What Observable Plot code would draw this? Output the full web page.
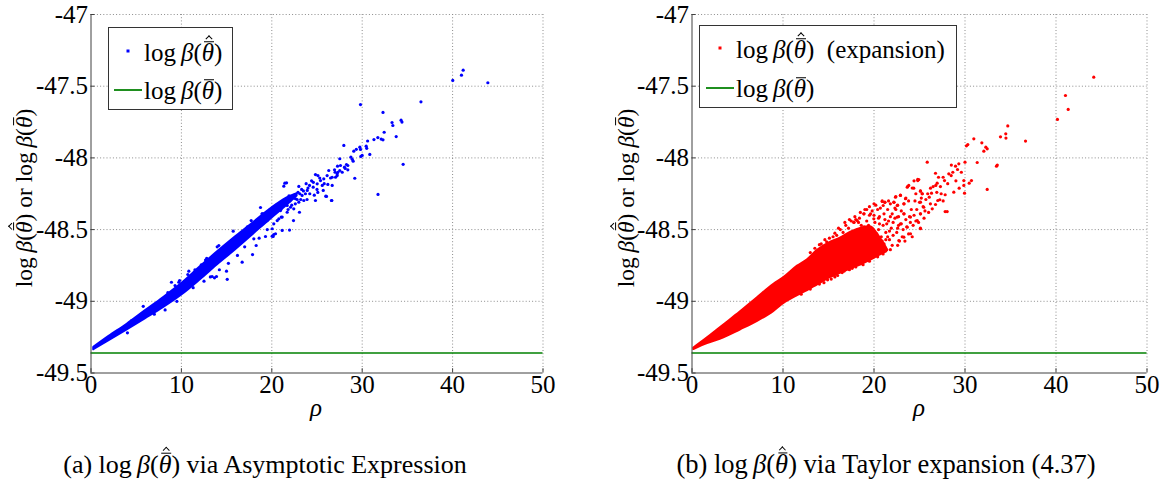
<!DOCTYPE html>
<html><head><meta charset="utf-8">
<script src="https://cdn.jsdelivr.net/npm/d3@7"></script>
<script src="https://cdn.jsdelivr.net/npm/@observablehq/plot@0.6"></script>
<style>
body{margin:0;background:#fff;}
#fig{position:relative;width:1169px;height:487px;font-family:"Liberation Serif",serif;color:#000;overflow:hidden;}
#fig svg text{font-family:"Liberation Serif",serif !important;}
.panel{position:absolute;top:0;}
.ov{position:absolute;white-space:nowrap;line-height:1.1;}
.c{transform:translate(-50%,-50%);}
.vc{transform:translateY(-50%);}
.rot{transform:translate(-50%,-50%) rotate(-90deg);}
.th{position:relative;display:inline-block;line-height:1;}
.th .bar{position:absolute;left:22%;right:4%;top:0.02em;border-top:0.055em solid currentColor;}
.th .hat{position:absolute;left:58%;top:-0.16em;width:0.16em;height:0.16em;border-left:0.05em solid currentColor;border-top:0.05em solid currentColor;transform:translateX(-50%) rotate(45deg);}
.legend{position:absolute;box-sizing:border-box;border:1px solid #333;background:#fff;}
.ldot{position:absolute;width:3px;height:3px;transform:translate(-50%,-50%);}
.lline{position:absolute;height:2px;background:#1f8f1f;}
</style></head><body>
<div id="fig"></div>
<script>
// ---------- data ----------
const xTicks = [0, 10, 20, 30, 40, 50];
const yTicks = [-47, -47.5, -48, -48.5, -49, -49.5];
const yTickLabels = ["-47", "-47.5", "-48", "-48.5", "-49", "-49.5"];
const baselineValue = -49.36; // log beta(theta bar)

// panel (a): dense core of the scatter (envelope)
const asymBandRho = [0.3, 2, 4, 6, 8, 10, 12, 14, 16, 18, 20, 21.5, 22.8];
const asymBandHi  = [-49.322, -49.245, -49.16, -49.067, -48.975, -48.878, -48.765, -48.655, -48.55, -48.45, -48.35, -48.285, -48.25];
const asymBandLo  = [-49.338, -49.275, -49.20, -49.123, -49.045, -48.958, -48.855, -48.745, -48.64, -48.53, -48.42, -48.34, -48.265];
// panel (a): individual points outside / along the core
const asymPoints = [
 [41.17,-47.388],[40.98,-47.423],[40.02,-47.46],[43.9,-47.476],[36.5,-47.609],[29.81,-47.628],[32.3,-47.683],
 [33.3,-47.753],[33.39,-47.774],[34.3,-47.737],[34.4,-47.75],[32.43,-47.821],[33.76,-47.851],[31.73,-47.858],
 [32.1,-47.869],[32.3,-47.874],[31.3,-47.872],[30.6,-47.882],[30.44,-47.918],[30.5,-47.933],[29.74,-47.925],
 [29.81,-47.941],[30.84,-47.976],[30.0,-47.983],[29.85,-47.99],[29.07,-47.953],[29.35,-47.94],[28.75,-47.995],
 [28.9,-48.01],[29.0,-48.023],[27.97,-47.913],[27.52,-48.006],[28.41,-48.053],[28.12,-48.074],[34.53,-48.045],
 [31.75,-48.255],[29.18,-48.142],[27.27,-48.058],[27.52,-48.088],[27.23,-48.111],[27.05,-48.135],[26.6,-48.297],
 [25.97,-48.267],[21.44,-48.176],[21.33,-48.197],[21.96,-48.503],[18.75,-48.346],[18.94,-48.39],[15.73,-48.511],
 [15.07,-48.847],[17.87,-48.674],[13.96,-48.62],[14.14,-48.611],[5.78,-49.035],[4.03,-49.22],[12.67,-48.712],
 [9.8,-48.855],
 [27.6,-48.053],[28.04,-48.065],[28.26,-48.046],[28.41,-48.083],[27.79,-48.1],[27.3,-48.1],[26.94,-48.083],
 [27.23,-48.123],[26.68,-48.135],[26.3,-48.088],[26.12,-48.123],[25.75,-48.146],[25.39,-48.158],[25.1,-48.123],
 [24.83,-48.116],[25.02,-48.181],[25.58,-48.192],[24.58,-48.204],[26.68,-48.192],[26.2,-48.185],[26.05,-48.269],
 [26.64,-48.297],[25.69,-48.227],[25.09,-48.241],[24.83,-48.297],[24.17,-48.192],[23.92,-48.227],[23.72,-48.25],
 [23.35,-48.262],[23.1,-48.25],[23.54,-48.297],[22.99,-48.309],[22.62,-48.285],[22.43,-48.355],[22.07,-48.344],
 [21.7,-48.332],[22.99,-48.199],[21.63,-48.174],[23.06,-48.379],[22.4,-48.437],[20.96,-48.367],[21.15,-48.413],
 [20.6,-48.437],[20.22,-48.46],[20.04,-48.494],[19.78,-48.39],[19.49,-48.437],[19.12,-48.39],[18.93,-48.39],
 [18.2,-48.443],[17.72,-48.437],[20.22,-48.534],[20.04,-48.546],
 [9.71,-48.867],[10.82,-48.79],[16.72,-48.727],[13.88,-48.827],[13.66,-48.836],[13.4,-48.827],[19.3,-48.548],
 [20.15,-48.548],[20.41,-48.529],[21.15,-48.506],[20.78,-48.425],[21.04,-48.413],[21.7,-48.379],[18.01,-48.564],
 [18.27,-48.611],[16.17,-48.599],[10.71,-48.813],[8.9,-48.867],[14.99,-48.79],
 [3.0,-49.205],[4.5,-49.135],[6.5,-49.05],[7.5,-49.012],[8.5,-48.94],[9.3,-48.89],[11.5,-48.78],[12.2,-48.745],
 [12.8,-48.70],[14.5,-48.64],[15.5,-48.585],[16.5,-48.53],[17.3,-48.48],[11.3,-48.905],[12.5,-48.86],[13.2,-48.83],
 [14.2,-48.78],[15.2,-48.735],[16.2,-48.68],[17.0,-48.62],[18.6,-48.56],[19.5,-48.5],[7.0,-49.09],[8.2,-49.06],
 [9.5,-49.0],[19.0,-48.41],[19.8,-48.36],[20.5,-48.33],[21.3,-48.3],[21.9,-48.265],[22.5,-48.26],[23.3,-48.22],
 [22.2,-48.33],[22.8,-48.29],[23.8,-48.18],[24.4,-48.16],
 [21.0,-48.36],[21.6,-48.31],[22.0,-48.30],[22.3,-48.28],[22.9,-48.24],[23.5,-48.23],[24.0,-48.21],[24.6,-48.17],
 [25.3,-48.14],[21.8,-48.36],[22.6,-48.32],[23.2,-48.29],[24.2,-48.25],[25.0,-48.22],[25.8,-48.18],[26.5,-48.14],
 [27.0,-48.10],[24.7,-48.26],[23.9,-48.29]
];

// panel (b): dense core of the scatter
const taylorBandRho = [0.2, 1.7, 3.5, 5.3, 7.2, 9.0, 10.1, 11.6, 12.7, 13.8, 15.2, 16.3, 17.4, 18.6, 19.6, 20.6, 21.4];
const taylorBandLo  = [-49.336, -49.295, -49.255, -49.20, -49.14, -49.07, -49.015, -48.96, -48.925, -48.885, -48.835, -48.805, -48.775, -48.745, -48.715, -48.68, -48.655];
const taylorBandHi  = [-49.326, -49.255, -49.165, -49.075, -48.975, -48.882, -48.835, -48.755, -48.71, -48.645, -48.59, -48.56, -48.52, -48.49, -48.48, -48.55, -48.63];
// panel (b): individual points
const taylorPoints = [
 [44.15,-47.437],[41.04,-47.565],[41.34,-47.662],[40.16,-47.732],[36.65,-47.883],[34.7,-47.777],[34.48,-47.832],
 [34.5,-47.862],[33.9,-47.853],[33.46,-48.058],[33.55,-48.05],[32.44,-48.22],[32.29,-47.925],[32.44,-47.937],
 [32.07,-47.953],[31.85,-47.895],[30.97,-47.867],[30.31,-47.907],[30.16,-47.916],[31.34,-48.032],[25.85,-48.03],
 [29.32,-48.041],[28.96,-48.058],[29.18,-48.081],[28.66,-48.1],[30.46,-48.176],[30.71,-48.158],[29.87,-48.158],
 [29.87,-48.192],[29.95,-48.246],[29.36,-48.211],[28.77,-48.239],[28.22,-48.111],[28.48,-48.123],[27.6,-48.135],
 [27.75,-48.158],[27.09,-48.135],[26.76,-48.107],[26.94,-48.176],[26.79,-48.192],[27.38,-48.25],[27.82,-48.257],
 [27.23,-48.292],[27.82,-48.374],[28.04,-48.374],[26.21,-48.211],[26.32,-48.246],[26.07,-48.274],[27.01,-48.297],
 [26.76,-48.325],[26.4,-48.355],[24.92,-48.151],[24.81,-48.158],[25.11,-48.232],[25.3,-48.25],[23.82,-48.192],
 [23.65,-48.204],[24.37,-48.211],[25.11,-48.309],[25.47,-48.344],[25.11,-48.39],[24.75,-48.437],[25.11,-48.494],
 [22.91,-48.262],[23.46,-48.285],[23.28,-48.32],[22.36,-48.274],[22.18,-48.309],[22.55,-48.332],[20.9,-48.304],
 [21.19,-48.309],[21.01,-48.332],[22.0,-48.39],[22.55,-48.413],[23.28,-48.39],[24.01,-48.413],[22.91,-48.46],
 [23.65,-48.483],[22.73,-48.576],[23.28,-48.553],[24.01,-48.529],[19.62,-48.39],[19.98,-48.425],[18.88,-48.39],
 [18.15,-48.437],[17.78,-48.448],
 [14.2,-48.60],[14.8,-48.585],[15.5,-48.55],[15.9,-48.54],[14.5,-48.87],[15.3,-48.845],[16.0,-48.82],
 [16.3,-48.50],[16.6,-48.52],[16.9,-48.47],[17.2,-48.49],[17.5,-48.44],[17.8,-48.45],[16.5,-48.60],[16.8,-48.66],
 [17.1,-48.58],[17.4,-48.63],[17.7,-48.55],[17.9,-48.70],[16.4,-48.72],[16.7,-48.79],[17.0,-48.75],[17.3,-48.70],
 [17.6,-48.77],[18.0,-48.62],[18.2,-48.50],[18.1,-48.74],
 [18.4,-48.42],[18.6,-48.47],[18.9,-48.39],[19.2,-48.44],[19.5,-48.40],[19.8,-48.37],[18.5,-48.56],[18.8,-48.61],
 [19.1,-48.52],[19.4,-48.58],[19.7,-48.49],[19.9,-48.55],[18.3,-48.68],[18.7,-48.72],[19.0,-48.66],[19.3,-48.70],
 [19.6,-48.64],[19.95,-48.69],[20.1,-48.45],[20.2,-48.60],
 [20.4,-48.36],[20.6,-48.41],[20.9,-48.30],[21.2,-48.31],[21.5,-48.36],[21.8,-48.32],[20.5,-48.50],[20.8,-48.55],
 [21.0,-48.47],[21.3,-48.52],[21.6,-48.44],[21.9,-48.49],[20.3,-48.65],[20.7,-48.62],[21.1,-48.60],[21.4,-48.64],
 [21.7,-48.57],[22.0,-48.61],
 [22.2,-48.31],[22.4,-48.27],[22.6,-48.33],[22.9,-48.26],[23.3,-48.32],[23.5,-48.28],[23.7,-48.20],[22.3,-48.42],
 [22.7,-48.41],[23.0,-48.46],[23.3,-48.39],[23.6,-48.48],[23.9,-48.41],[22.5,-48.52],[22.8,-48.58],[23.1,-48.55],
 [23.8,-48.53],[24.0,-48.45],
 [24.2,-48.21],[24.4,-48.16],[24.8,-48.15],[25.1,-48.23],[25.3,-48.25],[24.5,-48.30],[24.7,-48.36],[25.0,-48.31],
 [25.4,-48.34],[25.7,-48.29],[24.3,-48.47],[24.6,-48.44],[25.1,-48.39],[25.1,-48.49],[25.5,-48.42],[26.0,-48.38],
 [17.5,-48.52],[17.9,-48.58],[18.3,-48.45],[18.5,-48.64],[18.9,-48.48],[19.1,-48.60],[19.4,-48.47],[19.7,-48.62],
 [20.0,-48.40],[20.3,-48.53],[20.6,-48.46],[20.9,-48.58],[21.1,-48.39],[21.4,-48.46],[21.7,-48.51],[22.1,-48.45],
 [22.4,-48.36],[22.6,-48.49],[16.9,-48.57],[17.2,-48.66],[18.6,-48.52],[19.2,-48.36],[20.2,-48.33],[20.7,-48.35],
 [21.6,-48.30],[18.0,-48.43],[16.6,-48.75],[17.7,-48.73],[19.8,-48.66],[21.3,-48.57],
 [13.0,-48.66],[13.5,-48.63],[14.0,-48.605],[14.6,-48.57],[15.1,-48.56],[15.7,-48.525],[16.1,-48.49],[16.8,-48.45],
 [17.3,-48.43],[17.9,-48.41],[18.5,-48.38],[19.0,-48.36],[19.5,-48.34],[20.0,-48.32],
 [12.0,-48.95],[13.0,-48.915],[14.0,-48.88],[14.9,-48.85],[15.7,-48.83],[16.5,-48.80],[17.3,-48.78],[18.0,-48.76],
 [18.8,-48.745],[19.5,-48.72],[20.4,-48.69],[21.0,-48.67],[21.8,-48.64],[22.6,-48.61],[23.4,-48.58],[24.2,-48.55],
 [20.1,-48.55],[20.5,-48.42],[20.8,-48.64],[21.2,-48.43],[21.5,-48.55],[21.8,-48.41],[22.1,-48.54],[22.3,-48.35],
 [22.7,-48.47],[23.0,-48.37],[23.2,-48.50],[23.5,-48.43],[23.8,-48.30],[24.1,-48.36],[24.4,-48.40],[24.6,-48.25],
 [24.9,-48.45],[25.2,-48.28],[25.6,-48.37],[25.9,-48.25],[26.2,-48.32],[26.5,-48.20],[26.9,-48.24],[27.3,-48.20],
 [27.6,-48.30],[28.1,-48.18],[28.5,-48.05],[29.0,-48.16],[29.6,-48.10],[30.0,-48.03]
];

// ---------- text ----------
const TH_BAR = `<span class="th"><i>θ</i><span class="bar"></span></span>`;
const TH_HATBAR = `<span class="th"><i>θ</i><span class="bar"></span><span class="hat"></span></span>`;
const logb = th => `log&#8201;<i>β</i>(${th})`;
const yLabelText = `${logb(TH_HATBAR)} or ${logb(TH_BAR)}`;
const captionA = `(a) ${logb(TH_HATBAR)} via Asymptotic Expression`;
const captionB = `(b) ${logb(TH_HATBAR)} via Taylor expansion (4.37)`;
const legendA = [`${logb(TH_HATBAR)}`, `${logb(TH_BAR)}`];
const legendB = [`${logb(TH_HATBAR)}&#8194;(expansion)`, `${logb(TH_BAR)}`];

// ---------- drawing ----------
const fig = document.getElementById("fig");
const H = 420, MT = 14, MB = 47.5;
const FONT = "Liberation Serif";

function panel({left, width, marginLeft, marginRight, rho, lo, hi, points, color}) {
  const band = rho.map((r, i) => ({r, lo: lo[i], hi: hi[i]}));
  const ySpan = yTicks.slice(0, -1);
  const svg = Plot.plot({
    width, height: H, marginLeft, marginRight, marginTop: MT, marginBottom: MB,
    x: {domain: [0, 50]},
    y: {domain: [-49.5, -47]},
    style: {fontFamily: FONT, fontSize: "25px", background: "white", color: "#000", overflow: "visible"},
    marks: [
      Plot.gridX(xTicks.slice(1), {stroke: "#8c8c8c", strokeOpacity: 1, strokeDasharray: "1,2.2"}),
      Plot.gridY(ySpan, {stroke: "#8c8c8c", strokeOpacity: 1, strokeDasharray: "1,2.2"}),
      Plot.areaY(band, {x: "r", y1: "lo", y2: "hi", fill: color, stroke: color, strokeWidth: 2, curve: "monotone-x"}),
      Plot.dot(points, {x: d => d[0], y: d => d[1], r: 1.6, fill: color, stroke: null}),
      Plot.ruleY([baselineValue], {stroke: "#008000", strokeWidth: 1.5}),
      Plot.ruleX([0], {stroke: "#404040", strokeWidth: 1}),
      Plot.ruleY([-49.5], {stroke: "#404040", strokeWidth: 1}),
      Plot.ruleX(xTicks, {y1: -49.5, y2: -49.47, stroke: "#404040"}),
      Plot.ruleY(yTicks, {x1: 0, x2: 0.45, stroke: "#404040"}),
      Plot.axisX(xTicks, {tickSize: 0, tickPadding: 2, label: null, fontSize: 25, fontFamily: FONT, tickFormat: d => String(d)}),
      Plot.axisY(yTicks, {tickSize: 0, tickPadding: 3, label: null, fontSize: 25, fontFamily: FONT, tickFormat: d => yTickLabels[yTicks.indexOf(d)]})
    ]
  });
  svg.classList.add("panel");
  svg.style.left = left + "px";
  fig.appendChild(svg);
}

panel({left: 0, width: 584, marginLeft: 90.5, marginRight: 41.5,
       rho: asymBandRho, lo: asymBandLo, hi: asymBandHi, points: asymPoints, color: "#0000ff"});
panel({left: 584, width: 585, marginLeft: 107.5, marginRight: 22.5,
       rho: taylorBandRho, lo: taylorBandLo, hi: taylorBandHi, points: taylorPoints, color: "#ff0000"});

function ov(html, x, y, cls, size) {
  const d = document.createElement("div");
  d.className = "ov " + cls;
  d.style.left = x + "px"; d.style.top = y + "px";
  d.style.fontSize = (size || 24) + "px";
  d.innerHTML = html;
  fig.appendChild(d);
  return d;
}
function legend(x, y, w, h, color, texts, dot, line, textX, rows) {
  const b = document.createElement("div");
  b.className = "legend";
  Object.assign(b.style, {left: x + "px", top: y + "px", width: w + "px", height: h + "px"});
  fig.appendChild(b);
  const d = document.createElement("div");
  d.className = "ldot";
  Object.assign(d.style, {left: dot[0] + "px", top: dot[1] + "px", background: color});
  fig.appendChild(d);
  const l = document.createElement("div");
  l.className = "lline";
  Object.assign(l.style, {left: line[0] + "px", width: (line[1] - line[0]) + "px", top: (line[2] - 1) + "px"});
  fig.appendChild(l);
  ov(texts[0], textX, rows[0], "vc", 25);
  ov(texts[1], textX, rows[1], "vc", 25);
}

// panel (a) overlays
ov(yLabelText, 25, 198, "rot", 23.5);
ov(`<i>ρ</i>`, 316, 408, "c", 25);
legend(108, 27, 125, 83, "#0000ff", legendA, [128.3, 50.5], [114, 142, 90], 144, [53, 91]);
ov(captionA, 265, 465, "c", 26);

// panel (b) overlays
ov(yLabelText, 627, 198, "rot", 23.5);
ov(`<i>ρ</i>`, 919, 408, "c", 25);
legend(699, 25, 258, 83, "#ff0000", legendB, [720, 48], [706, 734, 88], 736, [50, 89]);
ov(captionB, 886, 465, "c", 26.5);
</script>
</body></html>
